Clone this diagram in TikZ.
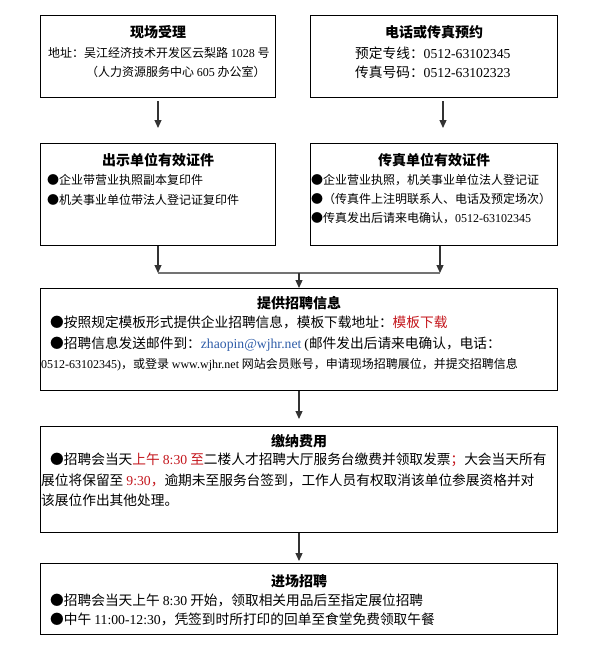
\documentclass[tikz,border=0pt]{standalone}
\usepackage{fontspec}
\setmainfont{Noto Sans CJK SC}
\newfontfamily\latnfont{Liberation Serif}
\newcommand\latn[1]{{\latnfont #1}}
\usetikzlibrary{arrows.meta,positioning}
\definecolor{warnred}{HTML}{C4161C}
\definecolor{mailblue}{HTML}{2F5DA8}

\begin{document}
\begin{tikzpicture}[x=1pt,y=-1pt,
  box/.style={draw,line width=1pt,anchor=north west,inner sep=0pt},
  head/.style={font=\fontsize{14}{16}\selectfont\bfseries,inner sep=0pt},
  small/.style={font=\fontsize{12}{14}\selectfont,anchor=west,inner sep=0pt},
  big/.style={font=\fontsize{13.7}{15}\selectfont,anchor=west,inner sep=0pt},
  flow/.style={-{Triangle[length=8pt,width=7pt]},line width=1.2pt,black!80}]

\useasboundingbox (0,0) rectangle (614,653);

% Boxes
\node[box,minimum width=235pt,minimum height=82pt] (accept) at (40,15) {};
\node[box,minimum width=247pt,minimum height=82pt] (booking) at (310,15) {};
\node[box,minimum width=235pt,minimum height=102pt] (show) at (40,143) {};
\node[box,minimum width=247pt,minimum height=102pt] (fax) at (310,143) {};
\node[box,minimum width=517pt,minimum height=102pt] (info) at (40,288) {};
\node[box,minimum width=517pt,minimum height=106pt] (fee) at (40,426) {};
\node[box,minimum width=517pt,minimum height=71pt] (enter) at (40,563) {};

% Titles
\node[head] (acceptT) at (accept.north |- 0,32) {现场受理};
\node[head] (bookingT) at (booking.north |- 0,32) {电话或传真预约};
\node[head] (showT) at (show.north |- 0,160) {出示单位有效证件};
\node[head] (faxT) at (fax.north |- 0,160) {传真单位有效证件};
\node[head] (infoT) at (info.north |- 0,303) {提供招聘信息};
\node[head] (feeT) at (fee.north |- 0,441) {缴纳费用};
\node[head] (enterT) at (enter.north |- 0,581) {进场招聘};

% Box texts
\node[small] (acceptA) at (48,53) {地址：吴江经济技术开发区云梨路 \latn{1028} 号};
\node[small] (acceptB) at (86,72) {（人力资源服务中心 \latn{605} 办公室）};
\node[big] (bookingA) at (355,53) {预定专线：\latn{0512-63102345}};
\node[big] (bookingB) at (355,72) {传真号码：\latn{0512-63102323}};
\node[small] (showA) at (47,180) {●企业带营业执照副本复印件};
\node[small] (showB) at (47,200) {●机关事业单位带法人登记证复印件};
\node[small] (faxA) at (311,180) {●企业营业执照，机关事业单位法人登记证};
\node[small] (faxB) at (311,199) {●（传真件上注明联系人、电话及预定场次）};
\node[small] (faxC) at (311,218) {●传真发出后请来电确认，\latn{0512-63102345}};
\node[big] (infoA) at (50,322) {●按照规定模板形式提供企业招聘信息，模板下载地址：\textcolor{warnred}{模板下载}};
\node[big] (infoB) at (50,344) {●招聘信息发送邮件到：\textcolor{mailblue}{\latn{zhaopin@wjhr.net}} \latn{(}邮件发出后请来电确认，电话：};
\node[small] (infoC) at (41,365) {\latn{0512-63102345)}，或登录 \latn{www.wjhr.net} 网站会员账号，申请现场招聘展位，并提交招聘信息};
\node[big] (feeA) at (50,460) {●招聘会当天\textcolor{warnred}{上午 \latn{8:30} 至}二楼人才招聘大厅服务台缴费并领取发票\textcolor{warnred}{；}大会当天所有};
\node[big] (feeB) at (41,480) {展位将保留至 \textcolor{warnred}{\latn{9:30}，}逾期未至服务台签到，工作人员有权取消该单位参展资格并对};
\node[big] (feeC) at (41,500) {该展位作出其他处理。};
\node[big] (enterA) at (50,600) {●招聘会当天上午 \latn{8:30} 开始，领取相关用品后至指定展位招聘};
\node[big] (enterB) at (50,619) {●中午 \latn{11:00-12:30}，凭签到时所打印的回单至食堂免费领取午餐};

% Arrows
\draw[flow,shorten <=3pt,shorten >=15pt] (accept.south) -- (show.north);
\draw[flow,shorten <=3pt,shorten >=15pt] ([xshift=9pt]booking.south) -- ([xshift=9pt]fax.north);
\coordinate (joinL) at (show.south |- 0,273);
\coordinate (joinR) at (440,273);
\coordinate (joinM) at (info.north |- 0,273);
\draw[flow] (show.south) -- (joinL);
\draw[flow] (fax.south -| joinR) -- (joinR);
\draw[line width=1.2pt,black!55] (joinL) -- (joinR);
\draw[flow] (joinM) -- (info.north);
\draw[flow,shorten >=7pt] (info.south) -- (fee.north);
\draw[flow,shorten >=2pt] (fee.south) -- (enter.north);
\end{tikzpicture}
\end{document}
